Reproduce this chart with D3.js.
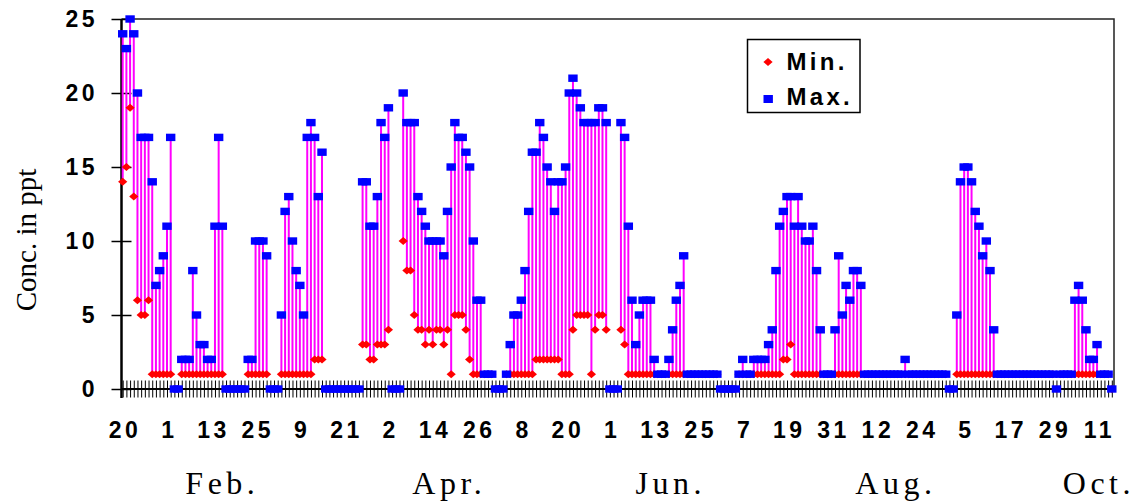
<!DOCTYPE html>
<html>
<head>
<meta charset="utf-8">
<script src="https://cdn.jsdelivr.net/npm/d3@7/dist/d3.min.js"></script>
<style>
  body { margin: 0; background: #fff; }
  svg { display: block; }
</style>
</head>
<body>
<div id="chart"></div>
<script>
// one value per day, first day is 20 Jan
var maxVals = [
  24, 23, 25, 24, 20, 17, 17, 17, 14, 7,
  8, 9, 11, 17, 0, 0, 2, 2, 2, 8,
  5, 3, 3, 2, 2, 11, 17, 11, 0, 0,
  0, 0, 0, 0, 2, 2, 10, 10, 10, 9,
  0, 0, 0, 5, 12, 13, 10, 8, 7, 5,
  17, 18, 17, 13, 16, 0, 0, 0, 0, 0,
  0, 0, 0, 0, 0, 14, 14, 11, 11, 13,
  18, 17, 19, 0, 0, 0, 20, 18, 18, 18,
  13, 12, 11, 10, 10, 10, 10, 9, 12, 15,
  18, 17, 17, 16, 15, 10, 6, 6, 1, 1,
  1, 0, 0, 0, 1, 3, 5, 5, 6, 8,
  12, 16, 16, 18, 17, 15, 14, 12, 14, 14,
  15, 20, 21, 20, 19, 18, 18, 18, 18, 19,
  19, 18, 0, 0, 0, 18, 17, 11, 6, 3,
  5, 6, 6, 6, 2, 1, 1, 1, 2, 4,
  6, 7, 9, 1, 1, 1, 1, 1, 1, 1,
  1, 1, 0, 0, 0, 0, 0, 1, 2, 1,
  1, 2, 2, 2, 2, 3, 4, 8, 11, 12,
  13, 13, 11, 13, 11, 10, 10, 11, 8, 4,
  1, 1, 1, 4, 9, 5, 7, 6, 8, 8,
  7, 1, 1, 1, 1, 1, 1, 1, 1, 1,
  1, 1, 2, 1, 1, 1, 1, 1, 1, 1,
  1, 1, 1, 1, 0, 0, 5, 14, 15, 15,
  14, 12, 11, 9, 10, 8, 4, 1, 1, 1,
  1, 1, 1, 1, 1, 1, 1, 1, 1, 1,
  1, 1, 1, 0, 1, 1, 1, 1, 6, 7,
  6, 4, 2, 2, 3, 1, 1, 1, 0
]
var minVals = [
  14, 15, 19, 13, 6, 5, 5, 6, 1, 1,
  1, 1, 1, 1, 0, 0, 1, 1, 1, 1,
  1, 1, 1, 1, 1, 1, 1, 1, 0, 0,
  0, 0, 0, 0, 1, 1, 1, 1, 1, 1,
  0, 0, 0, 1, 1, 1, 1, 1, 1, 1,
  1, 1, 2, 2, 2, 0, 0, 0, 0, 0,
  0, 0, 0, 0, 0, 3, 3, 2, 2, 3,
  3, 3, 4, 0, 0, 0, 10, 8, 8, 5,
  4, 4, 3, 4, 3, 4, 4, 3, 4, 1,
  5, 5, 5, 4, 2, 1, 1, 1, 1, 1,
  1, 0, 0, 0, 1, 1, 1, 1, 1, 1,
  1, 1, 2, 2, 2, 2, 2, 2, 2, 1,
  1, 1, 4, 5, 5, 5, 5, 1, 4, 5,
  5, 4, 0, 0, 0, 4, 3, 1, 1, 1,
  1, 1, 1, 1, 1, 1, 1, 1, 1, 1,
  1, 1, 1, 1, 1, 1, 1, 1, 1, 1,
  1, 1, 0, 0, 0, 0, 0, 1, 1, 1,
  1, 1, 1, 1, 1, 1, 1, 1, 1, 2,
  2, 3, 1, 1, 1, 1, 1, 1, 1, 1,
  1, 1, 1, 1, 1, 1, 1, 1, 1, 1,
  1, 1, 1, 1, 1, 1, 1, 1, 1, 1,
  1, 1, 1, 1, 1, 1, 1, 1, 1, 1,
  1, 1, 1, 1, 0, 0, 1, 1, 1, 1,
  1, 1, 1, 1, 1, 1, 1, 1, 1, 1,
  1, 1, 1, 1, 1, 1, 1, 1, 1, 1,
  1, 1, 1, 0, 1, 1, 1, 1, 1, 1,
  1, 1, 1, 1, 1, 1, 1, 1, 0
]
var xTickLabels = ['20', '1', '13', '25', '9', '21', '2', '14', '26', '8', '20', '1',
  '13', '25', '7', '19', '31', '12', '24', '5', '17', '29', '11']
var monthLabels = ['Feb.', 'Apr.', 'Jun.', 'Aug.', 'Oct.']
var monthDays = [27, 88.5, 148.5, 209.5, 264.5]
var yTicks = [0, 5, 10, 15, 20, 25]
var legendLabels = ['Min.', 'Max.']

var width = 1140
var height = 504
var plot = { left: 121.5, right: 1114, top: 19, bottom: 389 }

var svg = d3
  .select('#chart')
  .append('svg')
  .attr('width', width)
  .attr('height', height)

var xPositionScale = d3
  .scaleLinear()
  .domain([0, maxVals.length - 1])
  .range([122.7, 1111.8])
var yPositionScale = d3
  .scaleLinear()
  .domain([0, 25])
  .range([plot.bottom, plot.top])

var days = maxVals.map(function(v, i) {
  return { day: i, max: v, min: minVals[i] }
})

// frame (top and right)
svg
  .append('path')
  .attr('d', 'M' + plot.left + ',' + plot.top + 'H' + plot.right + 'V' + plot.bottom)
  .attr('fill', 'none')
  .attr('stroke', '#222')
  .attr('stroke-width', 1.5)

// daily tick marks crossing the x axis
var dayAxis = d3
  .axisBottom(xPositionScale)
  .tickValues(d3.range(maxVals.length))
  .tickSize(17)
  .tickFormat('')
svg
  .append('g')
  .attr('transform', 'translate(0,' + (plot.bottom - 8.5) + ')')
  .call(dayAxis)
  .call(g => g.select('.domain').remove())
  .selectAll('line')
  .attr('stroke', '#000')
  .attr('stroke-width', 1)

// x labels every 12 days
var xAxis = d3
  .axisBottom(xPositionScale)
  .tickValues(d3.range(0, maxVals.length, 12))
  .tickSize(0)
  .tickPadding(33)
  .tickFormat((d, i) => xTickLabels[i])
svg
  .append('g')
  .attr('transform', 'translate(0,' + plot.bottom + ')')
  .call(xAxis)
  .call(g => g.select('.domain').remove())
  .selectAll('text')
  .attr('font-family', 'Liberation Sans, Arial, sans-serif')
  .attr('font-weight', 'bold')
  .attr('font-size', 23)
  .attr('letter-spacing', 3.5)
  .attr('dx', 1.8)
  .attr('fill', '#000')

// y axis, ticks on both sides
var yAxis = d3
  .axisLeft(yPositionScale)
  .tickValues(yTicks)
  .tickSize(10)
  .tickPadding(17)
svg
  .append('g')
  .attr('transform', 'translate(' + plot.left + ',0)')
  .call(yAxis)
  .call(g => g.select('.domain').remove())
  .call(g => g.selectAll('line').attr('stroke', '#000').attr('stroke-width', 1.5))
  .selectAll('text')
  .attr('font-family', 'Liberation Sans, Arial, sans-serif')
  .attr('font-weight', 'bold')
  .attr('font-size', 23)
  .attr('letter-spacing', 3.5)
  .attr('dx', 3.5)
  .attr('fill', '#000')

svg
  .append('g')
  .attr('transform', 'translate(' + plot.left + ',0)')
  .call(d3.axisRight(yPositionScale).tickValues(yTicks).tickSize(10).tickFormat(''))
  .call(g => g.select('.domain').remove())
  .selectAll('line')
  .attr('stroke', '#000')
  .attr('stroke-width', 1.5)

// axis lines
svg
  .append('line')
  .attr('x1', plot.left)
  .attr('x2', plot.right)
  .attr('y1', yPositionScale(0))
  .attr('y2', yPositionScale(0))
  .attr('stroke', '#000')
  .attr('stroke-width', 2)
svg
  .append('line')
  .attr('x1', plot.left)
  .attr('x2', plot.left)
  .attr('y1', plot.top)
  .attr('y2', plot.bottom + 9)
  .attr('stroke', '#000')
  .attr('stroke-width', 2.5)

// min-max stems
svg
  .selectAll('.stem')
  .data(days)
  .enter()
  .append('line')
  .attr('class', 'stem')
  .attr('x1', d => xPositionScale(d.day))
  .attr('x2', d => xPositionScale(d.day))
  .attr('y1', d => yPositionScale(d.min))
  .attr('y2', d => yPositionScale(d.max))
  .attr('stroke', '#ff00ff')
  .attr('stroke-width', 2)

var diamond = 'M0,-4L4.6,0L0,4L-4.6,0Z'

svg
  .selectAll('.min-point')
  .data(days)
  .enter()
  .append('path')
  .attr('class', 'min-point')
  .attr('d', diamond)
  .attr('transform', d => 'translate(' + xPositionScale(d.day) + ',' + yPositionScale(d.min) + ')')
  .attr('fill', '#ff0000')

svg
  .selectAll('.max-point')
  .data(days)
  .enter()
  .append('rect')
  .attr('class', 'max-point')
  .attr('x', d => xPositionScale(d.day) - 4.7)
  .attr('y', d => yPositionScale(d.max) - 3.7)
  .attr('width', 9.4)
  .attr('height', 7.4)
  .attr('fill', '#0000ff')

// legend
var legend = svg.append('g').attr('transform', 'translate(747.5,39.5)')
legend
  .append('rect')
  .attr('width', 112.5)
  .attr('height', 73)
  .attr('fill', '#fff')
  .attr('stroke', '#000')
  .attr('stroke-width', 1.5)
legend
  .append('path')
  .attr('d', diamond)
  .attr('transform', 'translate(20.5,22.5)')
  .attr('fill', '#ff0000')
legend
  .append('rect')
  .attr('x', 16)
  .attr('y', 55.5)
  .attr('width', 9.4)
  .attr('height', 8)
  .attr('fill', '#0000ff')
legend
  .selectAll('.legend-label')
  .data(legendLabels)
  .enter()
  .append('text')
  .attr('class', 'legend-label')
  .text(d => d)
  .attr('x', 39)
  .attr('y', (d, i) => 30 + i * 35)
  .attr('font-family', 'Liberation Sans, Arial, sans-serif')
  .attr('font-weight', 'bold')
  .attr('font-size', 24)
  .attr('letter-spacing', 3.3)

// month names
svg
  .selectAll('.month')
  .data(monthLabels)
  .enter()
  .append('text')
  .attr('class', 'month')
  .text(d => d)
  .attr('x', (d, i) => xPositionScale(monthDays[i]))
  .attr('y', 494)
  .attr('text-anchor', 'middle')
  .attr('font-family', 'Liberation Serif, Times New Roman, serif')
  .attr('font-size', 32)
  .attr('letter-spacing', 4.5)

// y title
svg
  .append('text')
  .text('Conc. in ppt')
  .attr('transform', 'translate(36,240) rotate(-90)')
  .attr('text-anchor', 'middle')
  .attr('font-family', 'Liberation Serif, Times New Roman, serif')
  .attr('font-size', 29)
</script>
</body>
</html>
